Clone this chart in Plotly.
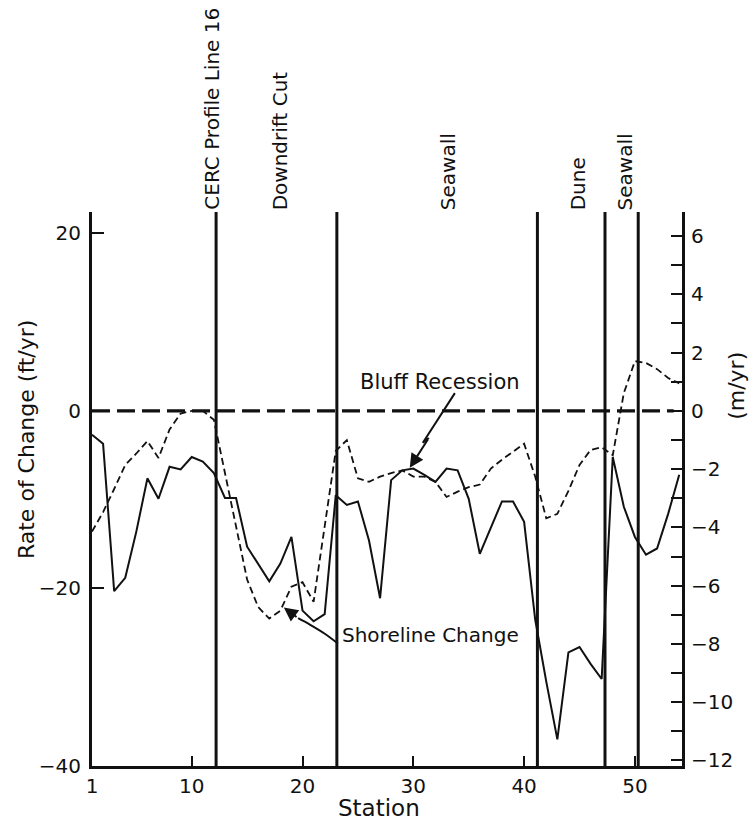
import plotly.graph_objects as go

# Survey stations along the shoreline
stations = list(range(1, 55))

# Bluff recession rate (ft/yr), solid curve
bluff_recession = [
    -2.7, -3.7, -20.3, -18.8, -13.6, -7.6, -9.9, -6.3, -6.6, -5.2,
    -5.7, -7.0, -9.8, -9.8, -15.3, -17.3, -19.2, -17.2, -14.2, -22.5,
    -23.7, -22.9, -9.5, -10.6, -10.2, -14.6, -21.1, -7.8, -6.7, -6.5,
    -7.2, -8.0, -6.5, -6.7, -9.9, -16.1, -13.2, -10.2, -10.2, -12.5,
    -23.5, -30.5, -37.0, -27.2, -26.6, -28.5, -30.2, -5.2, -10.8, -14.2,
    -16.2, -15.5, -11.6, -7.2,
]

# Shoreline change rate (ft/yr), dashed curve
shoreline_change = [
    -13.6, -11.4, -8.8, -6.1, -4.8, -3.4, -5.3, -2.1, -0.3, 0.0,
    0.0, -1.0, -7.0, -13.2, -19.0, -22.1, -23.4, -22.5, -19.8, -19.3,
    -21.5, -13.0, -4.5, -3.3, -7.6, -8.0, -7.4, -7.0, -6.7, -7.4,
    -7.4, -8.0, -9.7, -9.1, -8.6, -8.3, -6.5, -5.5, -4.6, -3.7,
    -7.4, -12.1, -11.6, -9.0, -6.1, -4.4, -4.1, -5.0, 2.0, 5.6,
    5.4, 4.7, 3.7, 3.1,
]

# Reach boundaries (station) and their labels
boundaries = [12.2, 23.1, 41.2, 47.3, 50.3]
reach_labels = ["CERC Profile Line 16", "Downdrift Cut", "Seawall", "Dune", "Seawall"]
reach_label_x = [11.8, 17.95, 33.1, 44.85, 49.1]

x_ticks = [1, 10, 20, 30, 40, 50]
y_ticks = [-40, -20, 0, 20]
m_ticks = list(range(-12, 7))

X_RANGE = [1, 54.25]
Y_RANGE = [-40, 22.4]
FT_TO_M = 0.3048

FONT = "DejaVu Sans"
INK = "#111111"

fig = go.Figure()

fig.add_trace(go.Scatter(
    x=stations, y=shoreline_change, mode="lines", name="Shoreline Change",
    line=dict(color=INK, width=1.8, dash="7px,4px"), showlegend=False,
))
fig.add_trace(go.Scatter(
    x=stations, y=bluff_recession, mode="lines", name="Bluff Recession",
    line=dict(color=INK, width=2), showlegend=False,
))

# Zig-zag leader for the "Bluff Recession" label
bluff_leader_x = [33.75, 30.86, 31.4]
bluff_leader_y = [2.0, -3.6, -3.05]
fig.add_trace(go.Scatter(
    x=bluff_leader_x, y=bluff_leader_y, mode="lines",
    line=dict(color=INK, width=2), showlegend=False, hoverinfo="skip",
))

# Curved leader for the "Shoreline Change" label
shore_leader_x = [23.19, 22.01, 20.66, 19.6]
shore_leader_y = [-26.2, -25.1, -24.07, -23.35]
fig.add_trace(go.Scatter(
    x=shore_leader_x, y=shore_leader_y, mode="lines",
    line=dict(color=INK, width=2, shape="spline"), showlegend=False, hoverinfo="skip",
))

# Invisible trace to activate the metric axis
fig.add_trace(go.Scatter(x=[X_RANGE[0]], y=[0], yaxis="y2", mode="markers",
                         marker=dict(opacity=0), showlegend=False, hoverinfo="skip"))

# Zero reference line
fig.add_shape(type="line", x0=1, x1=53.5, y0=0, y1=0, xref="x", yref="y",
              line=dict(color=INK, width=3.3, dash="18px,7px"))

# Reach boundaries
for b in boundaries:
    fig.add_shape(type="line", x0=b, x1=b, y0=0, y1=1, xref="x", yref="paper",
                  line=dict(color=INK, width=3))

for lbl, lx in zip(reach_labels, reach_label_x):
    fig.add_annotation(x=lx, y=1, xref="x", yref="paper", text=lbl, textangle=-90,
                       showarrow=False, xanchor="center", yanchor="bottom", yshift=0,
                       font=dict(family=FONT, size=20, color=INK))

# Curve labels with arrowheads
fig.add_annotation(x=32.4, y=3.3, xref="x", yref="y", text="Bluff Recession",
                   showarrow=False, xanchor="center", yanchor="middle",
                   font=dict(family=FONT, size=21, color=INK))
fig.add_annotation(x=29.68, y=-6.4, ax=31.4, ay=-3.05, xref="x", yref="y",
                   axref="x", ayref="y", text="", showarrow=True,
                   arrowhead=2, arrowsize=1.4, arrowwidth=2, arrowcolor=INK)

fig.add_annotation(x=23.35, y=-25.2, xref="x", yref="y", text="Shoreline Change",
                   showarrow=False, xanchor="left", yanchor="middle",
                   font=dict(family=FONT, size=20, color=INK))
fig.add_annotation(x=18.31, y=-22.15, ax=19.6, ay=-23.35, xref="x", yref="y",
                   axref="x", ayref="y", text="", showarrow=True,
                   arrowhead=2, arrowsize=1.4, arrowwidth=2, arrowcolor=INK)

# Axis titles
fig.add_annotation(x=-0.112, y=0.59, xref="paper", yref="paper",
                   text="Rate of Change (ft/yr)", textangle=-90, showarrow=False,
                   xanchor="center", yanchor="middle",
                   font=dict(family=FONT, size=22, color=INK))
fig.add_annotation(x=1.093, y=0.686, xref="paper", yref="paper",
                   text="(m/yr)", textangle=-90, showarrow=False,
                   xanchor="center", yanchor="middle",
                   font=dict(family=FONT, size=22, color=INK))
fig.add_annotation(x=0.486, y=-0.076, xref="paper", yref="paper",
                   text="Station", showarrow=False,
                   xanchor="center", yanchor="middle",
                   font=dict(family=FONT, size=23, color=INK))

fig.update_layout(
    width=755, height=827,
    margin=dict(l=92, r=73, t=212, b=61),
    paper_bgcolor="white", plot_bgcolor="white",
    font=dict(family=FONT, size=20, color=INK),
    xaxis=dict(range=X_RANGE, tickvals=x_ticks, ticks="inside", ticklen=10,
               tickwidth=2, tickcolor=INK, showline=True, linecolor=INK, linewidth=3,
               showgrid=False, zeroline=False, tickfont=dict(size=20),
               ticklabelstandoff=0),
    yaxis=dict(range=Y_RANGE, tickvals=y_ticks, ticks="inside", ticklen=12,
               tickwidth=2, tickcolor=INK, showline=True, linecolor=INK, linewidth=3,
               showgrid=False, zeroline=False, tickfont=dict(size=20),
               ticklabelstandoff=4),
    yaxis2=dict(range=[Y_RANGE[0] * FT_TO_M, Y_RANGE[1] * FT_TO_M], overlaying="y",
                side="right", tickvals=m_ticks,
                ticktext=[str(v).replace("-", "\u2212") if v % 2 == 0 else "" for v in m_ticks],
                ticks="inside", ticklen=11, tickwidth=2, tickcolor=INK,
                showline=True, linecolor=INK, linewidth=3, showgrid=False,
                zeroline=False, tickfont=dict(size=20), ticklabelstandoff=2),
)

fig.write_html("out.html")
